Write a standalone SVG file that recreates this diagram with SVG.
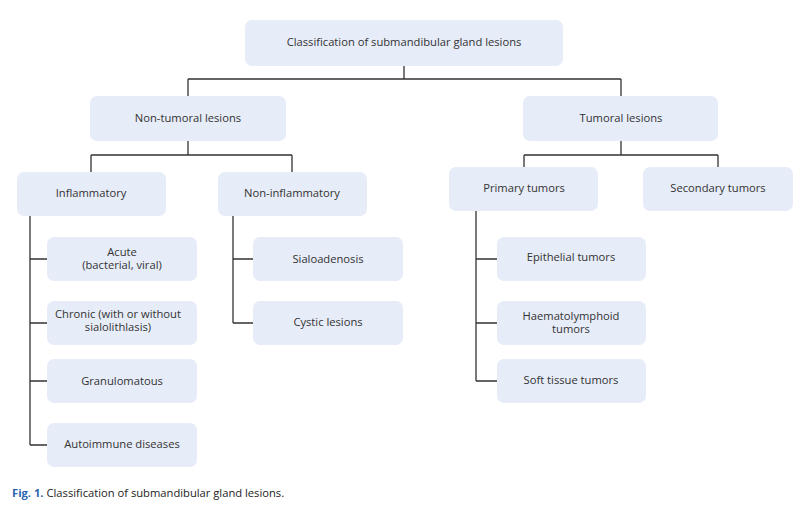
<svg xmlns="http://www.w3.org/2000/svg" width="804" height="519" viewBox="0 0 804 519">
<style>
.box{fill:#e6ecf8;}
.t{font-family:"Open Sans","Liberation Sans",sans-serif;font-size:11.2px;fill:#333;text-anchor:middle;}
.c{fill:none;stroke:#333;stroke-width:1.3;}
.cap{font-family:"Open Sans","Liberation Sans",sans-serif;font-size:11.2px;fill:#222;}
</style>
<rect width="804" height="519" fill="#fff"/>
<g id="connectors" class="c">
<path d="M404 66V79M188 79H621M188 79V96M621 79V96"/>
<path d="M188 141V155M91 155H292M91 155V172M292 155V172"/>
<path d="M621 141V155M524 155H718M524 155V167M718 155V167"/>
<path d="M30 216V445M30 259H47M30 323H47M30 381H47M30 445H47"/>
<path d="M233 216V323M233 259H253M233 323H253"/>
<path d="M476 211V381M476 259H497M476 323H497M476 381H497"/>
</g>
<g id="root"><rect class="box" x="245" y="20" width="318" height="46" rx="7"/><text class="t" x="404" y="46">Classification of submandibular gland lesions</text></g>
<g id="nontumoral"><rect class="box" x="90" y="96" width="196" height="45" rx="7"/><text class="t" x="188" y="122">Non-tumoral lesions</text></g>
<g id="tumoral"><rect class="box" x="523" y="96" width="195" height="45" rx="7"/><text class="t" x="621" y="122">Tumoral lesions</text></g>
<g id="inflammatory"><rect class="box" x="17" y="172" width="149" height="44" rx="7"/><text class="t" x="91" y="197">Inflammatory</text></g>
<g id="noninflammatory"><rect class="box" x="218" y="172" width="149" height="44" rx="7"/><text class="t" x="292" y="197">Non-inflammatory</text></g>
<g id="primary"><rect class="box" x="449" y="167" width="149" height="44" rx="7"/><text class="t" x="524" y="192">Primary tumors</text></g>
<g id="secondary"><rect class="box" x="643" y="167" width="150" height="44" rx="7"/><text class="t" x="718" y="192">Secondary tumors</text></g>
<g id="acute"><rect class="box" x="47" y="237" width="150" height="44" rx="7"/><text class="t" x="122" y="255.5">Acute</text><text class="t" x="122" y="268.5">(bacterial, viral)</text></g>
<g id="chronic"><rect class="box" x="47" y="301" width="150" height="44" rx="7"/><text class="t" x="118" y="318">Chronic (with or without</text><text class="t" x="118" y="331">sialolithlasis)</text></g>
<g id="granulomatous"><rect class="box" x="47" y="359" width="150" height="44" rx="7"/><text class="t" x="122" y="385">Granulomatous</text></g>
<g id="autoimmune"><rect class="box" x="47" y="423" width="150" height="44" rx="7"/><text class="t" x="122" y="448">Autoimmune diseases</text></g>
<g id="sialoadenosis"><rect class="box" x="253" y="237" width="150" height="44" rx="7"/><text class="t" x="328" y="263">Sialoadenosis</text></g>
<g id="cystic"><rect class="box" x="253" y="301" width="150" height="44" rx="7"/><text class="t" x="328" y="326">Cystic lesions</text></g>
<g id="epithelial"><rect class="box" x="497" y="237" width="149" height="44" rx="7"/><text class="t" x="571" y="261">Epithelial tumors</text></g>
<g id="haemato"><rect class="box" x="497" y="301" width="149" height="44" rx="7"/><text class="t" x="571" y="319.5">Haematolymphoid</text><text class="t" x="571" y="332.5">tumors</text></g>
<g id="softtissue"><rect class="box" x="497" y="359" width="149" height="44" rx="7"/><text class="t" x="571" y="384">Soft tissue tumors</text></g>
<text class="cap" x="12" y="497"><tspan font-weight="bold" fill="#2a64b0">Fig. 1.</tspan> Classification of submandibular gland lesions.</text>
</svg>
